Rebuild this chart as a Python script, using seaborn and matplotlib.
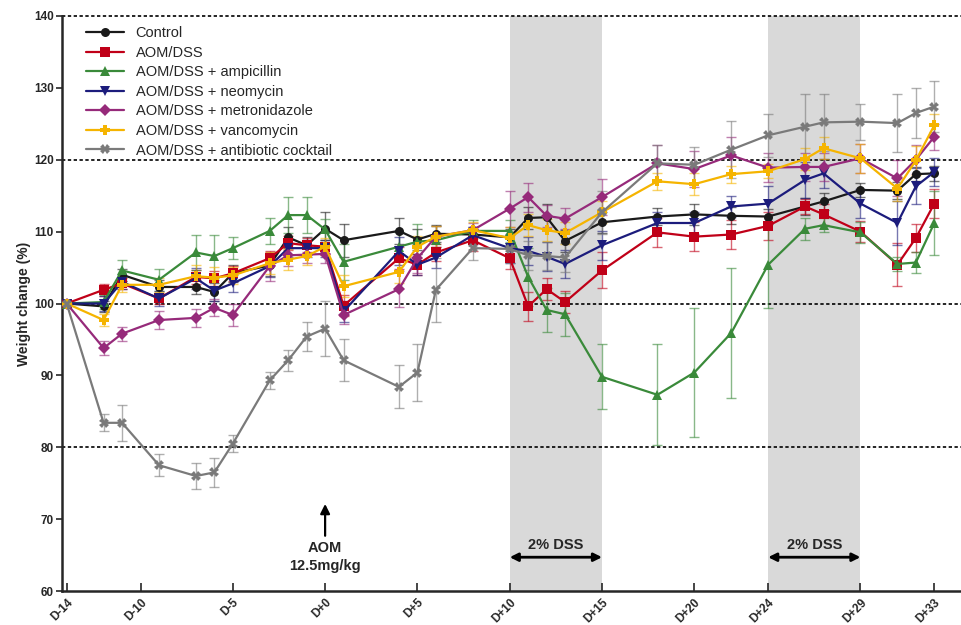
import numpy as np
import pandas as pd
import matplotlib
matplotlib.use("Agg")
import matplotlib.pyplot as plt
import seaborn as sns

# Données
days = [-14, -12, -11, -9, -7, -6, -5, -3, -2, -1, 0, 1, 4, 5, 6, 8, 10, 11, 12, 13,
        15, 18, 20, 22, 24, 26, 27, 29, 31, 32, 33]

groups = ["Control", "AOM/DSS", "AOM/DSS + ampicillin", "AOM/DSS + neomycin",
          "AOM/DSS + metronidazole", "AOM/DSS + vancomycin", "AOM/DSS + antibiotic cocktail"]

control = [100, 99.6, 104.0, 102.3, 102.3, 101.6, 104.2, 105.3, 109.2, 108.1, 110.4, 108.8, 110.1,
           108.9, 109.7, 109.6, 109.2, 111.9, 112.0, 108.7, 111.3, 112.1, 112.4, 112.2, 112.1,
           113.5, 114.2, 115.8, 115.7, 118.0, 118.1]
aom_dss = [100, 101.9, 102.8, 100.7, 103.7, 103.5, 104.2, 106.3, 108.4, 108.1, 107.9, 99.7, 106.3,
           105.4, 107.1, 108.8, 106.3, 99.6, 102.0, 100.2, 104.6, 109.9, 109.3, 109.6, 110.8,
           113.5, 112.4, 110.0, 105.4, 109.1, 113.9]
ampicillin = [100, 100.2, 104.6, 103.3, 107.1, 106.6, 107.7, 110.1, 112.3, 112.3, 110.3, 105.8, 107.9,
              108.6, 108.8, 110.1, 110.1, 103.7, 99.1, 98.5, 89.8, 87.3, 90.4, 95.9, 105.4,
              110.4, 110.9, 109.9, 105.5, 105.7, 111.2]
neomycin = [100, 100.0, 103.0, 100.7, 103.5, 101.8, 102.8, 105.2, 107.7, 107.7, 107.7, 98.9, 107.3,
            105.4, 106.4, 109.5, 107.7, 107.3, 106.5, 105.5, 108.1, 111.2, 111.2, 113.5, 113.9,
            117.2, 118.1, 113.9, 111.2, 116.3, 118.3]
metronidazole = [100, 93.8, 95.8, 97.7, 98.0, 99.4, 98.4, 105.2, 106.7, 106.8, 106.9, 98.4, 102.0,
                 106.3, 109.3, 110.2, 113.2, 114.8, 112.2, 111.8, 114.8, 119.5, 118.7, 120.6, 118.9,
                 119.0, 119.0, 120.2, 117.4, 120.0, 123.2]
vancomycin = [100, 97.7, 102.6, 102.6, 103.8, 103.6, 103.9, 105.6, 106.1, 106.6, 107.9, 102.4, 104.4,
              107.9, 109.3, 110.2, 109.1, 110.9, 110.2, 109.8, 112.7, 117.0, 116.6, 118.0, 118.4,
              120.1, 121.6, 120.2, 116.0, 119.9, 124.8]
cocktail = [100, 83.4, 83.4, 77.5, 76.0, 76.5, 80.5, 89.3, 92.1, 95.4, 96.5, 92.1, 88.4,
            90.4, 101.9, 107.7, 107.6, 106.7, 106.6, 106.4, 112.7, 119.5, 119.3, 121.4, 123.4,
            124.6, 125.2, 125.3, 125.1, 126.5, 127.4]

# Erreurs standards (SEM)
control_err = [0, 0.8, 0.8, 1.0, 1.0, 1.2, 1.2, 1.5, 1.5, 1.2, 2.3, 2.3, 1.8, 1.5, 1.2, 1.0, 1.2,
               1.5, 1.8, 1.5, 1.5, 1.2, 1.5, 1.2, 1.0, 1.2, 1.2, 1.0, 1.2, 1.0, 1.0]
aom_dss_err = [0, 0.8, 0.8, 0.8, 1.0, 1.0, 1.0, 1.0, 1.0, 1.0, 1.0, 1.5, 1.5, 1.5, 1.2, 1.5, 1.5,
               2.0, 1.5, 1.5, 2.5, 2.0, 2.0, 2.0, 2.0, 1.0, 1.5, 1.5, 3.0, 2.0, 2.0]
ampicillin_err = [0, 1.0, 1.5, 1.5, 2.5, 3.0, 1.5, 1.8, 2.5, 2.5, 1.5, 2.5, 2.0, 2.5, 2.0, 1.5, 1.5,
                  4.0, 3.0, 3.0, 4.5, 7.0, 9.0, 9.0, 6.0, 1.5, 1.0, 1.5, 1.0, 1.5, 4.5]
neomycin_err = [0, 1.0, 1.0, 1.0, 1.5, 1.5, 1.2, 1.5, 1.2, 1.2, 1.2, 1.5, 2.0, 1.5, 1.5, 1.2, 2.0,
                2.0, 2.0, 2.0, 2.0, 1.5, 1.5, 1.5, 2.5, 2.5, 2.0, 2.0, 3.0, 2.5, 2.0]
metronidazole_err = [0, 1.0, 1.0, 1.2, 1.2, 1.2, 1.5, 2.0, 1.5, 1.2, 1.2, 1.2, 2.5, 2.0, 1.5, 1.0,
                     2.5, 2.0, 1.5, 1.5, 2.5, 2.5, 2.5, 2.5, 2.0, 2.0, 2.0, 2.0, 2.5, 2.0, 1.8]
vancomycin_err = [0, 0.8, 1.0, 1.0, 1.5, 1.5, 1.2, 1.5, 1.5, 1.2, 1.2, 1.5, 1.5, 1.5, 1.5, 1.2, 1.5,
                  1.5, 1.5, 1.5, 1.5, 1.2, 1.5, 1.2, 1.0, 1.5, 1.5, 2.0, 1.8, 2.0, 1.5]
cocktail_err = [0, 1.2, 2.5, 1.5, 1.8, 2.0, 1.2, 1.2, 1.5, 2.0, 3.8, 2.9, 3.0, 4.0, 4.5, 1.7, 2.0,
                2.0, 2.0, 2.0, 3.0, 2.5, 2.5, 4.0, 3.0, 4.5, 4.0, 2.5, 4.0, 3.5, 3.5]

tick_days = [-14, -10, -5, 0, 5, 10, 15, 20, 24, 29, 33]
tick_labels = ["D-14", "D-10", "D-5", "D+0", "D+5", "D+10", "D+15", "D+20", "D+24", "D+29", "D+33"]
dss_periods = [(10, 15), (24, 29)]

values = [control, aom_dss, ampicillin, neomycin, metronidazole, vancomycin, cocktail]
errors = [control_err, aom_dss_err, ampicillin_err, neomycin_err, metronidazole_err,
          vancomycin_err, cocktail_err]
colors = ["#1a1a1a", "#c00018", "#3a8a3a", "#1c1c7c", "#962a7a", "#f5b400", "#7a7a7a"]
markers = ["o", "s", "^", "v", "D", "P", "X"]

rows = []
for g, vals, errs in zip(groups, values, errors):
    for d, v, e in zip(days, vals, errs):
        rows.append({"day": d, "weight": v, "sem": e, "group": g})
df = pd.DataFrame(rows)

sns.set_style("ticks")
plt.rcParams["font.family"] = ["Liberation Sans", "DejaVu Sans"]

fig = plt.figure(figsize=(9.62, 6.25), dpi=100)
ax = fig.add_axes([0.0645, 0.0544, 0.9355, 0.92])

for a, b in dss_periods:
    ax.axvspan(a, b, color="#d9d9d9", zorder=0, lw=0)

for yl in [80, 100, 120, 140]:
    ax.axhline(yl, color="black", ls=(0, (2, 1.5)), lw=1.2, zorder=1, clip_on=False)

for g, c in zip(groups, colors):
    sub = df[df["group"] == g]
    ax.errorbar(sub["day"], sub["weight"], yerr=sub["sem"], fmt="none", ecolor=c,
                alpha=0.6, elinewidth=1.0, capsize=3.5, capthick=1.0, zorder=2)

sns.lineplot(data=df, x="day", y="weight", hue="group", style="group",
             hue_order=groups, style_order=groups,
             palette=dict(zip(groups, colors)), markers=dict(zip(groups, markers)),
             dashes=False, markersize=6.5, markeredgewidth=0, linewidth=1.6,
             ax=ax, zorder=3)

ax.set_xlim(-14.25, 34.5)
ax.set_ylim(60, 140)
ax.set_yticks(range(60, 141, 10))
ax.set_xticks(tick_days)
ax.set_xticklabels(tick_labels, rotation=45, ha="right", rotation_mode="anchor",
                   fontsize=8.5, fontweight="bold")
for lab in ax.get_yticklabels():
    lab.set_fontweight("bold")
    lab.set_fontsize(8.5)
ax.tick_params(axis="x", direction="in", length=6, width=1.2, pad=4)
ax.tick_params(axis="y", direction="out", length=4, width=1.2, pad=2)
ax.set_xlabel("")
ax.set_ylabel("Weight change (%)", fontsize=10, fontweight="bold", labelpad=2)

sns.despine(ax=ax)
ax.spines["left"].set_linewidth(1.8)
ax.spines["bottom"].set_linewidth(1.8)

# Annotations
ax.annotate("", xy=(0, 72.5), xytext=(0, 67.3),
            arrowprops=dict(arrowstyle="-|>", color="black", lw=1.6, mutation_scale=14))
ax.text(0, 66.0, "AOM", ha="center", va="center", fontsize=10.5, fontweight="bold")
ax.text(0, 63.5, "12.5mg/kg", ha="center", va="center", fontsize=10.5, fontweight="bold")
for a, b in dss_periods:
    ax.annotate("", xy=(a, 64.7), xytext=(b, 64.7),
                arrowprops=dict(arrowstyle="<|-|>", color="black", lw=2, mutation_scale=12,
                                shrinkA=0, shrinkB=0))
    ax.text((a + b) / 2, 66.4, "2% DSS", ha="center", va="center", fontsize=10.5,
            fontweight="bold")

ax.legend(loc="upper left", bbox_to_anchor=(0.012, 1.005), frameon=False, fontsize=10.5,
          labelspacing=0.38, handlelength=2.6, handletextpad=0.8, title=None)

plt.savefig("out.png", dpi=100)
